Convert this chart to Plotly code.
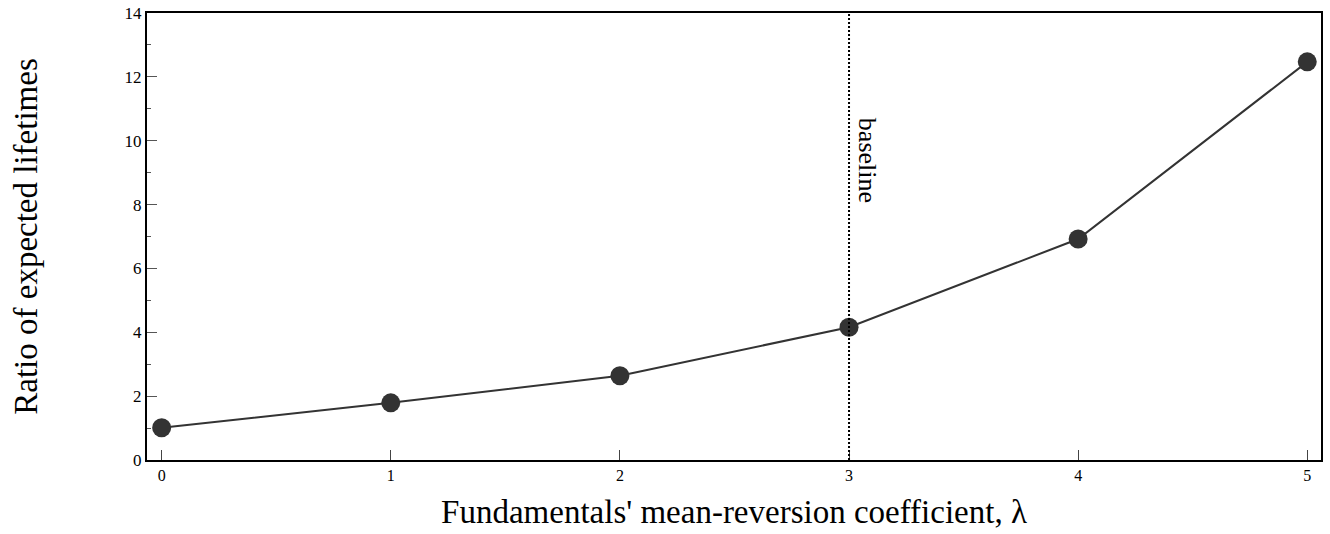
import plotly.graph_objects as go

lam = [0, 1, 2, 3, 4, 5]
ratio = [1.01, 1.79, 2.64, 4.16, 6.92, 12.47]
baseline_x = 3
baseline_label_y = 9.4
x_ticks = [0, 1, 2, 3, 4, 5]
y_ticks = [0, 2, 4, 6, 8, 10, 12, 14]

FONT = "Liberation Serif"
DARK = "#333333"

fig = go.Figure()
fig.add_trace(go.Scatter(
    x=lam, y=ratio, mode="lines+markers",
    line=dict(color=DARK, width=2),
    marker=dict(color=DARK, size=19),
    showlegend=False,
))

fig.add_shape(type="line", xref="x", yref="paper",
              x0=baseline_x, x1=baseline_x, y0=0, y1=1,
              line=dict(color="black", width=2, dash="2px,2px"))
fig.add_annotation(x=baseline_x, y=baseline_label_y, xref="x", yref="y",
                   text="baseline", textangle=90, showarrow=False,
                   xshift=18, font=dict(family=FONT, size=26, color="black"))

fig.update_layout(
    width=1330, height=534,
    margin=dict(l=147, r=9, t=13, b=74, autoexpand=False),
    paper_bgcolor="white", plot_bgcolor="white",
    font=dict(family=FONT, color="black"),
    xaxis=dict(
        range=[-0.064, 5.06], tickvals=x_ticks, ticks="inside", ticklen=10,
        tickcolor="#444", tickwidth=1, showgrid=False, zeroline=False,
        showline=True, linecolor="black", linewidth=2, mirror=True,
        tickfont=dict(family=FONT, size=16), ticklabeloverflow="allow",
        automargin=False,
        title=dict(text="Fundamentals' mean-reversion coefficient, λ",
                   font=dict(family=FONT, size=33), standoff=17),
    ),
    yaxis=dict(
        range=[0, 14], tickvals=y_ticks, ticks="inside", ticklen=10,
        tickcolor="#555", tickwidth=1, showgrid=False, zeroline=False,
        showline=True, linecolor="black", linewidth=2, mirror=True,
        minor=dict(ticks="inside", ticklen=4, dtick=1, tickcolor="#555", showgrid=False),
        tickfont=dict(family=FONT, size=17), ticklabeloverflow="allow",
        automargin=False,
        title=dict(text="Ratio of expected lifetimes",
                   font=dict(family=FONT, size=33), standoff=77),
    ),
)

fig.write_html("out.html", config={"displayModeBar": False},
               post_script="document.body.style.margin='0';")
